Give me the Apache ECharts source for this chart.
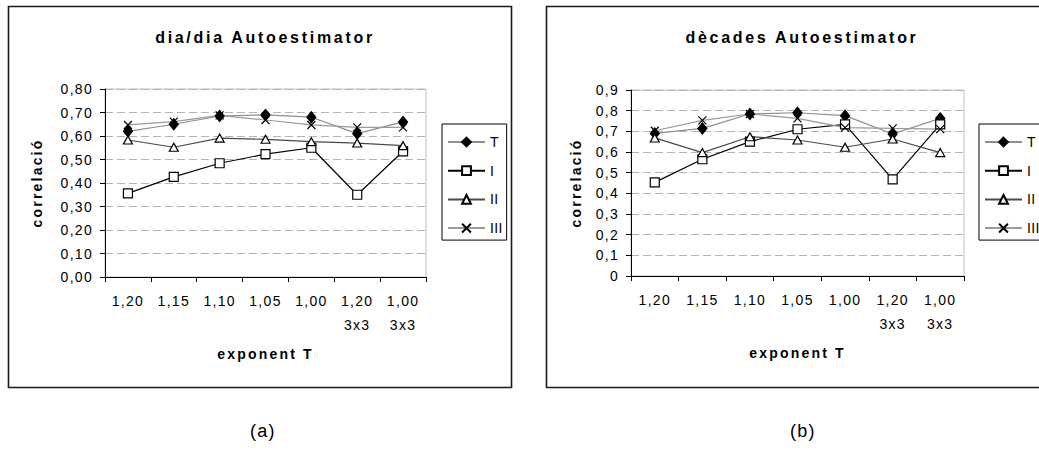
<!DOCTYPE html>
<html>
<head>
<meta charset="utf-8">
<script src="https://cdn.jsdelivr.net/npm/echarts@6/dist/echarts.min.js"></script>
<style>
  html, body { margin: 0; padding: 0; background: #fff; }
  #main { width: 1039px; height: 457px; }
</style>
</head>
<body>
<div id="main"></div>
<script>
// categories (exponent T)
var categories = ['1,20', '1,15', '1,10', '1,05', '1,00', '1,20\n3x3', '1,00\n3x3'];
var seriesNames = ['T', 'I', 'II', 'III'];

// (a) dia/dia
var diaT   = [0.62, 0.65, 0.685, 0.69, 0.68, 0.61, 0.66];
var diaI   = [0.356, 0.426, 0.484, 0.523, 0.55, 0.35, 0.535];
var diaII  = [0.583, 0.552, 0.591, 0.586, 0.576, 0.57, 0.559];
var diaIII = [0.647, 0.661, 0.688, 0.668, 0.647, 0.637, 0.637];

// (b) decades
var decT   = [0.69, 0.714, 0.784, 0.79, 0.776, 0.687, 0.763];
var decI   = [0.453, 0.565, 0.65, 0.71, 0.734, 0.468, 0.734];
var decII  = [0.668, 0.597, 0.674, 0.658, 0.623, 0.663, 0.597];
var decIII = [0.703, 0.753, 0.784, 0.763, 0.718, 0.714, 0.711];

var FONT = 'Liberation Sans, Arial, sans-serif';
var xMark = 'path://M0,0L10,10M0,10L10,0';

// look of each series: T, I, II, III
var looks = [
  { line: '#8f8f8f', symbol: 'diamond', size: [9, 11], fill: '#000' },
  { line: '#000000', symbol: 'rect', size: 9, fill: '#fff' },
  { line: '#4a4a4a', symbol: 'triangle', size: [9, 8], fill: '#fff' },
  { line: '#9a9a9a', symbol: xMark, size: 8, fill: '#000' }
];

function makeSeries(values, idx) {
  return values.map(function (arr, i) {
    var lk = looks[i];
    return {
      name: seriesNames[i],
      type: 'line',
      xAxisIndex: idx,
      yAxisIndex: idx,
      data: arr,
      symbol: lk.symbol,
      symbolSize: lk.size,
      showAllSymbol: true,
      lineStyle: { color: lk.line, width: 1.2 },
      itemStyle: { color: lk.fill, borderColor: '#000', borderWidth: 1.2 },
      emphasis: { disabled: true }
    };
  });
}

function yAxis(idx, max, gap, fmt) {
  return {
    gridIndex: idx,
    type: 'value',
    min: 0,
    max: max,
    interval: 0.1,
    name: 'correlació',
    nameLocation: 'middle',
    nameRotate: 90,
    nameGap: gap,
    nameTextStyle: { fontFamily: FONT, fontWeight: 'bold', fontSize: 14, color: '#000' },
    axisLine: { show: true, lineStyle: { color: '#000', width: 1 } },
    axisTick: { show: true, length: 5, lineStyle: { color: '#000' } },
    axisLabel: { margin: 12, fontFamily: FONT, fontSize: 14, color: '#000', formatter: fmt },
    splitLine: { show: true, lineStyle: { type: [8, 4], color: '#b4b4b4', width: 1 } }
  };
}

function xAxis(idx) {
  return {
    gridIndex: idx,
    type: 'category',
    data: categories,
    boundaryGap: true,
    name: 'exponent T',
    nameLocation: 'middle',
    nameGap: 70,
    nameTextStyle: { fontFamily: FONT, fontWeight: 'bold', fontSize: 14, color: '#000' },
    axisLine: { show: true, lineStyle: { color: '#000', width: 1 } },
    axisTick: { show: true, alignWithLabel: false, interval: 0, length: 5, lineStyle: { color: '#000' } },
    axisLabel: { interval: 0, margin: 12, lineHeight: 24, fontFamily: FONT, fontSize: 14, color: '#000' },
    splitLine: { show: false }
  };
}

function legend(left) {
  return {
    orient: 'vertical',
    left: left,
    top: 124,
    data: seriesNames,
    padding: [11, 5, 5, 5],
    itemWidth: 37,
    itemHeight: 11,
    itemGap: 14.7,
    borderColor: '#000',
    borderWidth: 1,
    backgroundColor: '#fff',
    selectedMode: false,
    textStyle: { fontFamily: FONT, fontSize: 14, color: '#000', lineHeight: 14 }
  };
}

var chart = echarts.init(document.getElementById('main'), null, { renderer: 'svg' });

chart.setOption({
  animation: false,
  backgroundColor: '#fff',
  title: [
    { text: 'dia/dia Autoestimator', left: 260, top: 24, textAlign: 'center',
      textStyle: { fontFamily: FONT, fontWeight: 'bold', fontSize: 16, color: '#000' } },
    { text: 'dècades Autoestimator', left: 797, top: 24, textAlign: 'center',
      textStyle: { fontFamily: FONT, fontWeight: 'bold', fontSize: 16, color: '#000' } }
  ],
  legend: [legend(442), legend(979)],
  grid: [
    { left: 105, top: 89, width: 321, height: 188, show: true, borderColor: '#c0c0c0', borderWidth: 1, outerBoundsMode: 'none' },
    { left: 631, top: 90, width: 333, height: 186, show: true, borderColor: '#c0c0c0', borderWidth: 1, outerBoundsMode: 'none' }
  ],
  xAxis: [xAxis(0), xAxis(1)],
  yAxis: [
    yAxis(0, 0.8, 61, function (v) { return v.toFixed(2).replace('.', ','); }),
    yAxis(1, 0.9, 48, function (v) { return v === 0 ? '0' : v.toFixed(1).replace('.', ','); })
  ],
  graphic: [
    { type: 'rect', z: -10, shape: { x: 8.5, y: 6.5, width: 503, height: 381 },
      style: { fill: 'none', stroke: '#1a1a1a', lineWidth: 1.6 } },
    { type: 'rect', z: -10, shape: { x: 546.5, y: 6.5, width: 500, height: 381 },
      style: { fill: 'none', stroke: '#1a1a1a', lineWidth: 1.6 } },
    { type: 'text', left: 250, top: 422,
      style: { text: '(a)', font: '18px ' + FONT, fill: '#000' } },
    { type: 'text', left: 790, top: 422,
      style: { text: '(b)', font: '18px ' + FONT, fill: '#000' } }
  ],
  series: makeSeries([diaT, diaI, diaII, diaIII], 0).concat(makeSeries([decT, decI, decII, decIII], 1))
});

// the source chart draws its text widely spaced
function spaceText() {
  var texts = document.querySelectorAll('#main svg text');
  for (var i = 0; i < texts.length; i++) {
    var cs = getComputedStyle(texts[i]);
    var bold = parseInt(cs.fontWeight, 10) >= 600;
    var size = parseFloat(cs.fontSize);
    var s = bold ? (size >= 16 ? 2.7 : 2.2) : 1.3;
    if (seriesNames.indexOf(texts[i].textContent) >= 0) { // legend labels
      s = 0.4;
      texts[i].style.fill = '#000';
    }
    texts[i].setAttribute('letter-spacing', s);
  }
}
spaceText();
chart.on('finished', spaceText);
</script>
</body>
</html>
